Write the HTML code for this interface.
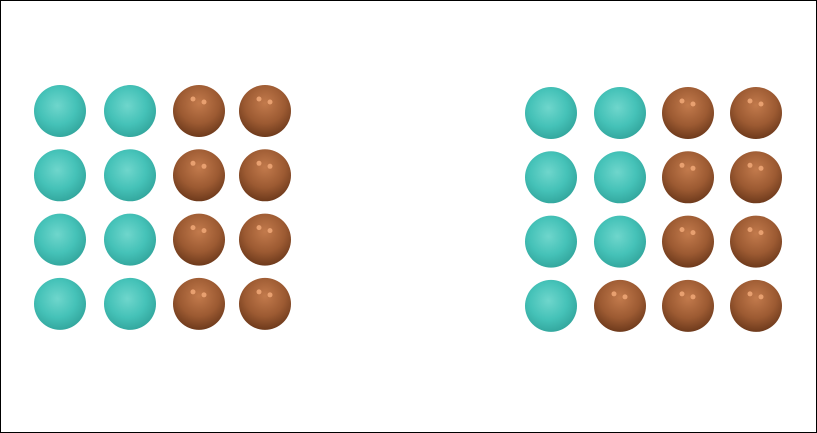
<!DOCTYPE html>
<html><head><meta charset="utf-8"><style>
html,body{margin:0;padding:0;background:#fff}
#wrap{position:relative;width:817px;height:433px;box-sizing:border-box;border:1px solid #000;overflow:hidden}
</style></head><body>
<div id="wrap">
<svg id="svg" width="815" height="431">
<defs>
<radialGradient id="teal" cx="0.45" cy="0.4" r="0.6">
<stop offset="0" stop-color="#6fd6cc"/><stop offset="0.6" stop-color="#45c2b8"/><stop offset="1" stop-color="#34a89f"/>
</radialGradient>
<radialGradient id="brown" cx="0.5" cy="0.35" r="0.65">
<stop offset="0" stop-color="#c27a4c"/><stop offset="0.6" stop-color="#9c5a32"/><stop offset="1" stop-color="#6e3a1c"/>
</radialGradient>
</defs>
</svg>
</div>
<script>
// rows of each group: T = teal, B = brown
const leftGroup = ["TTBB","TTBB","TTBB","TTBB"];
const rightGroup = ["TTBB","TTBB","TTBB","TBBB"];
const groupX = [60, 551];
const groupY = [111, 113];
const colOffsets = [[0, 70, 139, 205], [0, 69, 137, 205]];
const rowStep = 64.3, R = 26;
const svg = document.getElementById('svg');
const NS = 'http://www.w3.org/2000/svg';
[leftGroup, rightGroup].forEach((g, gi) => {
  g.forEach((row, ri) => {
    [...row].forEach((c, ci) => {
      const cx = groupX[gi] + colOffsets[gi][ci] - 1, cy = groupY[gi] + ri * rowStep - 1;
      const circ = document.createElementNS(NS, 'circle');
      circ.setAttribute('cx', cx); circ.setAttribute('cy', cy); circ.setAttribute('r', R);
      circ.setAttribute('fill', c === 'T' ? 'url(#teal)' : 'url(#brown)');
      
      
      svg.appendChild(circ);
      if (c === 'B') {
        [[-6,-12],[5,-9]].forEach(o => {
          const h = document.createElementNS(NS, 'circle');
          h.setAttribute('cx', cx + o[0]); h.setAttribute('cy', cy + o[1]); h.setAttribute('r', 2.5);
          h.setAttribute('fill', '#e8a070');
          
          
          svg.appendChild(h);
        });
      }
    });
  });
});
</script>
</body></html>
